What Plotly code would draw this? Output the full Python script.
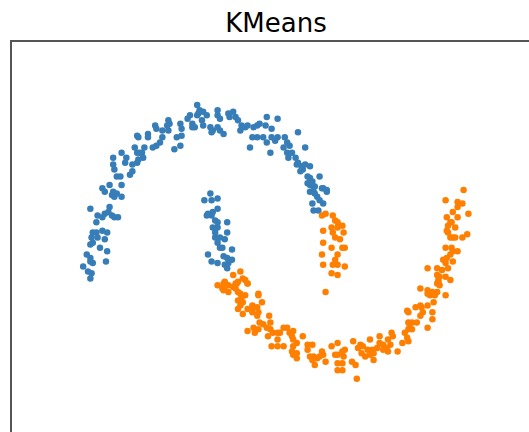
import plotly.graph_objects as go

# Cluster 0 (blue): upper crescent plus the left tip of the lower crescent
blue_x = [
    -0.09, -0.07, -0.08, -0.15, -0.17, -0.13, -0.13, -0.05, -0.04, -0.23, -0.22, -0.33, -0.32, -0.34,
    -0.44, -0.43, -0.38, -0.33, -0.26, -0.22, -0.23, -0.28, -0.50, -0.50, -0.59, -0.58, -0.38, -0.40,
    -0.43, -0.46, -0.53, -0.55, -0.61, -0.59, -0.57, -0.72, -0.68, -0.54, -0.58, -0.59, -0.63, -0.79,
    -0.79, -0.69, -0.63, -0.65, -0.78, -0.76, -0.73, -0.88, -0.82, -0.72, -0.79, -0.76, -0.86,
    -0.04, -0.01, -0.09, -0.11, 0.02, 0.04, 0.03, 0.08, 0.10, 0.13, 0.08, 0.08, 0.10, 0.17, 0.18,
    0.21, 0.23, 0.25, 0.28, 0.27, 0.31, 0.33, 0.38, 0.41, 0.43, 0.48, 0.49, 0.58, 0.53, 0.37, 0.41,
    0.46, 0.49, 0.53, 0.56, 0.58, 0.64, 0.66, 0.35, 0.52, 0.75, 0.81, 0.63, 0.66, 0.68, 0.70, 0.67,
    0.73, 0.75, 0.74, 0.78, 0.81, 0.85, 0.79, 0.77, 0.83, 0.85, 0.87, 0.83, 0.88, 0.85, 0.89, 0.93,
    0.96, 0.99,
    -0.80, -0.78, -0.72, -0.98, -0.82, -0.83, -0.86, -0.80, -0.78, -0.75, -0.92, -0.88, -0.93, -0.96,
    -0.93, -0.88, -0.84, -0.97, -0.92, -0.86, -0.96, -0.98, -0.90, -0.84, -1.01, -0.98, -0.96, -0.98,
    -1.04, -0.85, -1.00, -0.97, -0.98,
    0.02, -0.03, 0.03, 0.08, 0.08, 0.04, 0.00, 0.03, -0.01, 0.06, 0.08, 0.16, 0.04, 0.08, 0.06, 0.16,
    0.10, 0.06, 0.14, 0.08, 0.10, 0.12, 0.20, 0.00, 0.13, 0.16, 0.20, 0.17, 0.14, 0.16, 0.08, 0.03,
    0.85, 0.89, 0.95, 0.99, 0.88, 0.91, 0.87, 0.96, 0.93, 0.88, 0.92,
]
blue_y = [
    1.00, 0.97, 0.95, 0.94, 0.92, 0.89, 0.87, 0.91, 0.88, 0.89, 0.86, 0.91, 0.89, 0.88,
    0.88, 0.86, 0.85, 0.85, 0.81, 0.82, 0.76, 0.74, 0.83, 0.81, 0.82, 0.81, 0.81, 0.78,
    0.76, 0.75, 0.75, 0.72, 0.75, 0.72, 0.72, 0.72, 0.69, 0.69, 0.68, 0.66, 0.65, 0.69,
    0.65, 0.66, 0.61, 0.59, 0.62, 0.58, 0.58, 0.51, 0.53, 0.53, 0.49, 0.48, 0.49,
    0.96, 0.94, 0.94, 0.87, 0.87, 0.85, 0.84, 0.87, 0.85, 0.83, 0.94, 0.97, 0.92, 0.95, 0.93,
    0.96, 0.93, 0.91, 0.88, 0.85, 0.87, 0.88, 0.87, 0.88, 0.89, 0.88, 0.93, 0.92, 0.86, 0.81, 0.81,
    0.81, 0.78, 0.81, 0.79, 0.81, 0.81, 0.78, 0.75, 0.72, 0.84, 0.75, 0.75, 0.72, 0.76, 0.72, 0.69,
    0.69, 0.66, 0.65, 0.64, 0.65, 0.64, 0.62, 0.61, 0.58, 0.57, 0.55, 0.54, 0.52, 0.49, 0.48, 0.58,
    0.51, 0.49,
    0.47, 0.46, 0.46, 0.39, 0.40, 0.37, 0.36, 0.35, 0.34, 0.34, 0.35, 0.34, 0.31, 0.25,
    0.25, 0.26, 0.25, 0.22, 0.22, 0.21, 0.19, 0.18, 0.16, 0.14, 0.12, 0.10, 0.07, 0.08,
    0.05, 0.08, 0.02, 0.01, -0.02,
    0.48, 0.44, 0.44, 0.45, 0.39, 0.37, 0.36, 0.35, 0.35, 0.32, 0.31, 0.31, 0.28, 0.28, 0.25, 0.25,
    0.22, 0.22, 0.21, 0.19, 0.16, 0.16, 0.15, 0.12, 0.11, 0.10, 0.09, 0.07, 0.06, 0.04, 0.07, 0.08,
    0.53, 0.52, 0.51, 0.50, 0.49, 0.46, 0.42, 0.42, 0.44, 0.38, 0.38,
]

# Cluster 1 (orange): lower crescent plus the right tip of the upper crescent
orange_x = [
    0.95, 0.98, 1.04, 1.06, 1.08, 1.03, 1.08, 1.12, 0.96, 1.04, 1.06, 1.10, 1.03, 1.12, 0.96, 0.95,
    1.08, 1.06, 1.04, 1.08, 1.03, 1.08, 0.96, 0.98, 1.13, 1.14, 1.14,
    0.27, 0.21, 0.29, 0.14, 0.23, 0.25, 0.33, 0.08, 0.12, 0.17, 0.25, 0.42,
    2.13, 1.98, 2.08, 2.12, 2.08, 2.17, 2.04, 1.99, 2.08, 2.03, 2.00, 2.02, 2.06, 1.99, 2.00, 2.02,
    2.04, 2.06, 2.12, 2.16, 1.98, 2.03, 2.04, 2.08, 2.02, 1.99, 1.96, 2.04, 1.98, 1.83, 1.91, 1.95,
    2.00, 1.91, 1.93, 1.98, 1.92, 2.02, 1.91, 1.93, 1.77, 1.83, 1.87, 1.91, 1.83, 1.89, 1.98,
    0.13, 0.14, 0.17, 0.13, 0.21, 0.24, 0.23, 0.31, 0.33, 0.27, 0.28, 0.31, 0.25, 0.29, 0.27, 0.25,
    0.33, 0.37, 0.38, 0.41, 0.42, 0.45, 0.29, 0.37, 0.41, 0.42, 0.51, 0.52, 0.43, 0.46, 0.38, 0.39,
    0.33, 0.42, 0.49, 0.52, 0.54, 0.58, 0.60, 0.63, 0.66, 0.68, 0.71, 0.50, 0.58, 0.53, 0.58, 0.63,
    0.70, 0.71, 0.74, 0.71, 0.79, 0.83, 0.83, 0.87, 0.70, 0.74, 0.71, 0.74, 0.85, 0.88, 0.91, 0.93,
    0.96, 0.95, 0.98, 0.89, 0.87, 1.03, 1.08, 1.06, 1.08, 1.12, 1.13, 1.08, 1.12, 1.08, 1.12,
    1.85, 1.88, 1.92, 1.88, 1.66, 1.67, 1.73, 1.77, 1.78, 1.83, 1.79, 1.77, 1.87, 1.87, 1.83, 1.67,
    1.70, 1.74, 1.68, 1.67, 1.70, 1.64, 1.66, 1.62, 1.67, 1.58, 1.53, 1.54, 1.43, 1.50, 1.43, 1.46,
    1.52, 1.49, 1.50, 1.46, 1.41, 1.35, 1.27, 1.25, 1.29, 1.33, 1.37, 1.28, 1.31, 1.35, 1.38, 1.38,
    1.21, 1.14, 1.20, 1.23, 1.24,
]
orange_y = [
    0.35, 0.36, 0.35, 0.32, 0.31, 0.28, 0.28, 0.29, 0.26, 0.25, 0.22, 0.21, 0.16, 0.16, 0.19, 0.12,
    0.12, 0.09, 0.06, 0.06, 0.01, 0.00, 0.06, -0.10, 0.25, 0.16, 0.05,
    0.02, 0.00, -0.02, -0.04, -0.05, -0.04, -0.05, -0.06, -0.08, -0.10, -0.10, -0.11,
    0.50, 0.44, 0.43, 0.42, 0.40, 0.36, 0.37, 0.34, 0.34, 0.31, 0.29, 0.31, 0.28, 0.26, 0.25, 0.22,
    0.22, 0.22, 0.22, 0.24, 0.16, 0.16, 0.14, 0.14, 0.12, 0.10, 0.09, 0.08, 0.07, 0.04, 0.04, 0.03,
    0.04, 0.00, -0.01, -0.01, -0.03, -0.03, -0.05, -0.06, -0.08, -0.09, -0.10, -0.10, -0.11, -0.12, -0.12,
    -0.05, -0.07, -0.06, -0.09, -0.07, -0.05, -0.08, -0.03, -0.05, -0.11, -0.13, -0.12, -0.15, -0.16, -0.18, -0.20,
    -0.20, -0.18, -0.19, -0.19, -0.12, -0.16, -0.23, -0.22, -0.24, -0.22, -0.24, -0.28, -0.28, -0.29, -0.31, -0.34,
    -0.33, -0.32, -0.31, -0.32, -0.34, -0.34, -0.34, -0.31, -0.31, -0.34, -0.33, -0.36, -0.38, -0.42, -0.42, -0.42,
    -0.36, -0.38, -0.40, -0.42, -0.36, -0.41, -0.44, -0.41, -0.45, -0.46, -0.47, -0.49, -0.48, -0.48, -0.49, -0.48,
    -0.47, -0.45, -0.51, -0.53, -0.50, -0.42, -0.40, -0.47, -0.47, -0.45, -0.48, -0.52, -0.52, -0.56, -0.56,
    -0.12, -0.11, -0.04, -0.16, -0.21, -0.22, -0.19, -0.18, -0.19, -0.18, -0.22, -0.24, -0.22, -0.26, -0.31, -0.28,
    -0.28, -0.28, -0.29, -0.32, -0.32, -0.34, -0.37, -0.40, -0.39, -0.45, -0.34, -0.36, -0.36, -0.38, -0.40, -0.41,
    -0.41, -0.43, -0.45, -0.44, -0.43, -0.38, -0.41, -0.43, -0.42, -0.44, -0.44, -0.46, -0.48, -0.47, -0.46, -0.50,
    -0.39, -0.44, -0.51, -0.53, -0.61,
]

BLUE = "#377eb8"
ORANGE = "#ff7f00"

fig = go.Figure()
for xs, ys, col in ((blue_x, blue_y, BLUE), (orange_x, orange_y, ORANGE)):
    fig.add_trace(go.Scatter(
        x=xs, y=ys, mode="markers",
        marker=dict(color=col, size=6.5, line=dict(width=0)),
        showlegend=False, hoverinfo="skip",
    ))

fig.update_layout(
    width=529, height=432,
    margin=dict(l=12, r=0, t=42, b=0),
    paper_bgcolor="white", plot_bgcolor="white",
    title=dict(
        text="KMeans", x=276 / 529, xref="container", xanchor="center",
        y=1 - 23 / 432, yref="container", yanchor="middle",
        font=dict(family="DejaVu Sans", size=26, color="black"),
    ),
    font=dict(family="DejaVu Sans"),
)
fig.update_xaxes(
    range=[-1.633, 2.675], side="top", showline=True, linecolor="#555", linewidth=1.5,
    showgrid=False, zeroline=False, showticklabels=False, ticks="",
)
fig.update_yaxes(
    range=[-0.924, 1.371], showline=True, linecolor="#555", linewidth=1.5,
    showgrid=False, zeroline=False, showticklabels=False, ticks="",
)

fig.write_html("out.html")
